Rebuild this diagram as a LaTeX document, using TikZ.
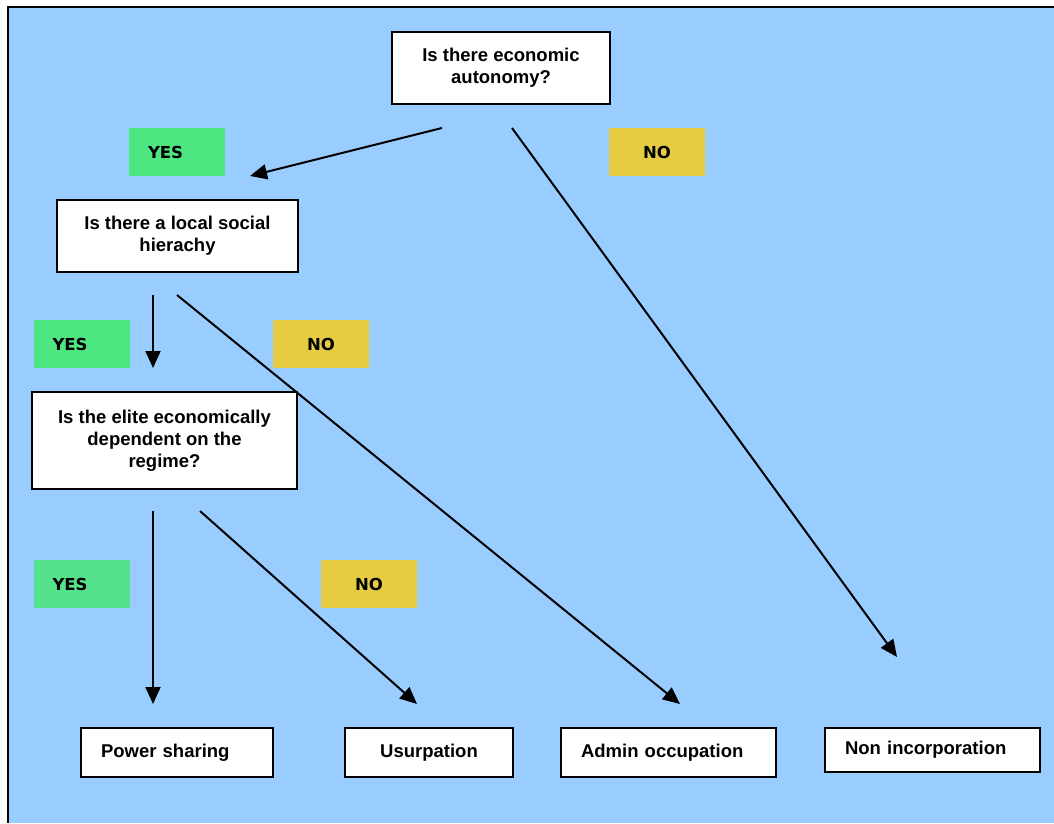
\documentclass[tikz,border=0pt]{standalone}
\usepackage{fontspec}
\setmainfont{Liberation Sans}
\newfontfamily\lblfont{DejaVu Sans}
\usepackage{xcolor}
\usetikzlibrary{arrows.meta,positioning}
\definecolor{skyblue}{RGB}{153,204,255}
\definecolor{yesgreen}{RGB}{77,230,128}
\definecolor{yesgreenb}{RGB}{85,226,140}
\definecolor{noyellow}{RGB}{229,204,66}

\begin{document}
\begin{tikzpicture}[x=1pt, y=-1pt,
  qbox/.style={draw, line width=1.3pt, fill=white, align=center, inner sep=0pt,
               font=\fontsize{18.5}{22}\selectfont\bfseries},
  endbox/.style={draw, line width=1.3pt, fill=white, inner ysep=0pt, inner xsep=20pt,
                 text width=#1, align=left, minimum height=49pt,
                 font=\fontsize{18.5}{22}\selectfont\bfseries},
  lbl/.style={minimum width=96pt, minimum height=48pt, inner sep=0pt,
              font=\lblfont\fontsize{16.5}{20}\selectfont\bfseries},
  yeslbl/.style={lbl, fill=yesgreen, text width=58pt, inner xsep=19pt, align=left},
  nolbl/.style={lbl, fill=noyellow},
  arr/.style={-{Triangle[length=17pt, width=15pt]}, line width=2pt}
]
\useasboundingbox (0,0) rectangle (1054,823);
\fill[skyblue] (8,7) rectangle (1054,823);
\draw[line width=2pt] (7.5,823) -- (7.5,7) -- (1054,7);

% questions
\node[qbox, minimum width=218pt, minimum height=72pt] (econ)
      at (501,68) {Is there economic\\autonomy?};
\node[qbox, minimum width=241pt, minimum height=72pt] (hier)
      at (177.5,236) {Is there a local social\\hierachy};
\node[qbox, minimum width=265pt, minimum height=97pt] (elite)
      at (164.5,440.5) {Is the elite economically\\dependent on the\\regime?};

% outcomes
\node[endbox=152pt] (power) at (177,752.5) {Power sharing};
\node[endbox=128pt, align=center] (usurp) at (429,752.5) {Usurpation};
\node[endbox=175pt] (admin) at (668.5,752.5) {Admin occupation};
\node[endbox=175pt, minimum height=44pt] (nonin) at (932.5,750) {Non incorporation};

% answers
\node[yeslbl] (econyes) at (177,152) {YES};
\node[nolbl] (econno) at (657,152) {NO};
\node[yeslbl] (hieryes) at (81.5,344) {YES};
\node[nolbl] (hierno) at (321,344) {NO};
\node[yeslbl, fill=yesgreenb] (eliteyes) at (81.5,584) {YES};
\node[nolbl] (eliteno) at (369,584) {NO};

% arrow ends
\coordinate (econyesA) at (442,128);
\coordinate (econyesB) at (250,176);
\coordinate (econnoA) at (512,128);
\coordinate (econnoB) at (897,657);
\coordinate (hieryesA) at (153,295);
\coordinate (hieryesB) at (153,368);
\coordinate (hiernoA) at (177,295);
\coordinate (hiernoB) at (680,704);
\coordinate (eliteyesA) at (153,511);
\coordinate (eliteyesB) at (153,704);
\coordinate (elitenoA) at (200,511);
\coordinate (elitenoB) at (417,704);

\draw[arr] (econyesA) -- (econyesB);
\draw[arr] (econnoA) -- (econnoB);
\draw[arr] (hieryesA) -- (hieryesB);
\draw[arr] (hiernoA) -- (hiernoB);
\draw[arr] (eliteyesA) -- (eliteyesB);
\draw[arr] (elitenoA) -- (elitenoB);
\end{tikzpicture}
\end{document}
